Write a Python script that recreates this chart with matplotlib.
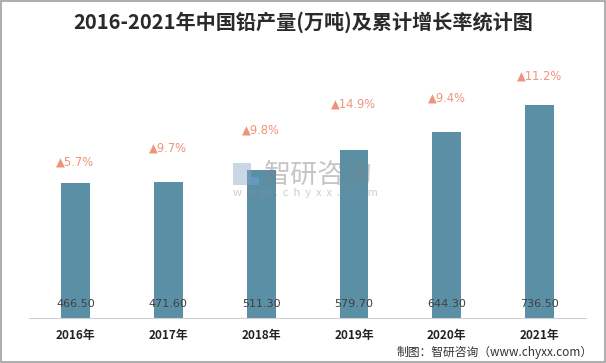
import matplotlib
matplotlib.use("Agg")
import matplotlib.pyplot as plt
from matplotlib.patches import Rectangle

plt.rcParams['font.family'] = ['Noto Sans CJK SC', 'DejaVu Sans']

years = ["2016年", "2017年", "2018年", "2019年", "2020年", "2021年"]
output = [466.50, 471.60, 511.30, 579.70, 644.30, 736.50]
growth = [5.7, 9.7, 9.8, 14.9, 9.4, 11.2]
# height (data units) where each growth label sits
growth_label_y = [539, 588, 650, 740, 761, 837]

bar_color = "#5b8fa6"
rate_color = "#f0937a"

fig = plt.figure(figsize=(6.06, 3.63), dpi=100)
ax = fig.add_axes([0.048, 0.124, 0.919, 0.711])

x = range(len(years))
ax.bar(x, output, width=0.31, color=bar_color, zorder=2)
ax.set_xlim(-0.5, len(years) - 0.5)
ax.set_ylim(0, 892)

for i, v in enumerate(output):
    ax.text(i, 48, "%.2f" % v, ha="center", va="center", fontsize=8,
            color="#404040", family=['DejaVu Sans'], zorder=4)

for i, g in enumerate(growth):
    ax.text(i, growth_label_y[i], "▲%.1f%%" % g, ha="center", va="center",
            fontsize=8.3, color=rate_color, family=['DejaVu Sans'], zorder=4)

ax.set_xticks(list(x))
ax.set_xticklabels(years, fontsize=8.5, fontweight="bold", color="#222222")
ax.tick_params(axis="x", length=0, pad=8)
ax.set_yticks([])
for s in ["top", "left", "right"]:
    ax.spines[s].set_visible(False)
ax.spines["bottom"].set_color("#d0d0d0")
ax.spines["bottom"].set_linewidth(0.8)

fig.text(0.5, 0.938, "2016-2021年中国铅产量(万吨)及累计增长率统计图", ha="center",
         va="center", fontsize=14.5, fontweight="bold", color="#2a2a2a")

# watermark
fig.text(0.436, 0.516, "智研咨询", ha="left", va="center", fontsize=19.5,
         color="#808080", alpha=0.45, zorder=5)
fig.text(0.384, 0.467, "w  w  w  .  c  h  y  x  x  .  c  o  m", ha="left", va="center",
         fontsize=8, color="#909090", alpha=0.45, zorder=5)
fig.patches.append(Rectangle((0.385, 0.49), 0.030, 0.060, transform=fig.transFigure,
                             facecolor="#8fa8c8", alpha=0.45, zorder=5))
fig.patches.append(Rectangle((0.415, 0.49), 0.012, 0.022, transform=fig.transFigure,
                             facecolor="#6fa0d0", alpha=0.55, zorder=5))

fig.text(0.978, 0.03, "制图：智研咨询（www.chyxx.com）", ha="right", va="center",
         fontsize=8.5, color="#333333")

fig.patches.append(Rectangle((0.001, 0.002), 0.997, 0.995, transform=fig.transFigure,
                             fill=False, edgecolor="#a0a0a0", linewidth=1.2))

fig.savefig("out.png", dpi=100)
